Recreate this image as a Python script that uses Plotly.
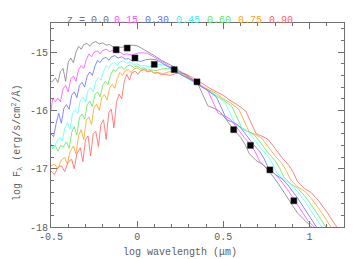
import plotly.graph_objects as go

# ---------------- data ----------------
redshifts = ["z = 0.0", "0.15", "0.30", "0.45", "0.60", "0.75", "0.90"]

sed_z000 = [(-0.51, -15.52), (-0.49, -15.50), (-0.475, -15.44), (-0.46, -15.52), (-0.445, -15.33), (-0.43, -15.28),
            (-0.415, -15.50), (-0.40, -15.17), (-0.385, -15.10), (-0.37, -15.18), (-0.355, -15.00), (-0.34, -14.90),
            (-0.325, -14.95), (-0.31, -14.87), (-0.29, -14.85), (-0.275, -14.90), (-0.26, -14.84), (-0.24, -14.82),
            (-0.22, -14.86), (-0.20, -14.84), (-0.18, -14.88), (-0.16, -14.87), (-0.14, -14.91), (-0.12, -14.90),
            (-0.09, -14.92), (-0.06, -14.89), (-0.03, -14.88), (0.00, -14.89), (0.03, -14.94), (0.06, -14.99),
            (0.10, -15.06), (0.14, -15.14), (0.19, -15.22), (0.22, -15.26), (0.25, -15.33), (0.30, -15.42),
            (0.35, -15.53), (0.37, -15.66), (0.39, -15.80), (0.41, -15.92), (0.45, -15.97), (0.48, -16.02),
            (0.52, -16.17), (0.56, -16.33), (0.60, -16.46), (0.625, -16.58), (0.65, -16.74), (0.69, -16.86),
            (0.73, -16.93), (0.77, -17.06), (0.82, -17.26), (0.87, -17.48), (0.90, -17.62), (0.93, -17.76),
            (0.96, -17.85), (0.99, -17.93), (1.03, -18.05)]

sed_z015 = [(-0.505, -16.08), (-0.49, -15.80), (-0.475, -15.85), (-0.46, -15.79), (-0.445, -15.85), (-0.43, -15.63),
            (-0.415, -15.57), (-0.40, -15.68), (-0.385, -15.46), (-0.37, -15.41), (-0.355, -15.50), (-0.34, -15.30),
            (-0.325, -15.23), (-0.31, -15.28), (-0.295, -15.13), (-0.28, -15.03), (-0.265, -15.08), (-0.25, -15.00),
            (-0.23, -14.98), (-0.215, -15.03), (-0.20, -14.97), (-0.18, -14.95), (-0.16, -14.99), (-0.14, -14.97),
            (-0.12, -15.01), (-0.10, -15.00), (-0.08, -15.04), (-0.06, -15.03), (-0.03, -15.05), (0.00, -15.02),
            (0.03, -15.01), (0.06, -15.02), (0.09, -15.07), (0.12, -15.12), (0.16, -15.19), (0.20, -15.27),
            (0.25, -15.35), (0.28, -15.39), (0.31, -15.46), (0.36, -15.55), (0.41, -15.66), (0.43, -15.79),
            (0.45, -15.93), (0.47, -16.05), (0.51, -16.10), (0.54, -16.15), (0.58, -16.30), (0.62, -16.46),
            (0.66, -16.59), (0.685, -16.71), (0.71, -16.87), (0.75, -16.99), (0.79, -17.06), (0.83, -17.19),
            (0.88, -17.39), (0.93, -17.61), (0.96, -17.75), (0.99, -17.89), (1.02, -17.98), (1.05, -18.06)]

sed_z030 = [(-0.50, -16.40), (-0.485, -16.45), (-0.47, -16.22), (-0.455, -16.05), (-0.44, -16.22), (-0.425, -15.96),
            (-0.41, -15.90), (-0.395, -15.98), (-0.38, -15.74), (-0.365, -15.68), (-0.35, -15.78), (-0.335, -15.57),
            (-0.32, -15.52), (-0.305, -15.60), (-0.29, -15.41), (-0.275, -15.34), (-0.26, -15.40), (-0.245, -15.24),
            (-0.23, -15.14), (-0.215, -15.18), (-0.20, -15.11), (-0.18, -15.09), (-0.165, -15.14), (-0.15, -15.08),
            (-0.13, -15.06), (-0.11, -15.10), (-0.09, -15.08), (-0.07, -15.12), (-0.05, -15.11), (-0.03, -15.15),
            (-0.01, -15.14), (0.02, -15.16), (0.05, -15.13), (0.08, -15.12), (0.11, -15.13), (0.14, -15.18),
            (0.17, -15.23), (0.21, -15.30), (0.25, -15.38), (0.30, -15.46), (0.33, -15.50), (0.36, -15.57),
            (0.41, -15.66), (0.46, -15.77), (0.48, -15.90), (0.50, -16.04), (0.52, -16.16), (0.56, -16.21),
            (0.59, -16.26), (0.63, -16.41), (0.67, -16.57), (0.71, -16.70), (0.735, -16.82), (0.76, -16.98),
            (0.80, -17.10), (0.84, -17.17), (0.88, -17.30), (0.93, -17.50), (0.98, -17.72), (1.01, -17.86),
            (1.04, -18.00), (1.07, -18.09)]

sed_z045 = [(-0.50, -16.58), (-0.485, -16.64), (-0.47, -16.56), (-0.45, -16.46), (-0.435, -16.52), (-0.42, -16.31),
            (-0.405, -16.21), (-0.39, -16.32), (-0.375, -16.05), (-0.36, -15.99), (-0.345, -16.05), (-0.33, -15.83),
            (-0.315, -15.77), (-0.30, -15.85), (-0.285, -15.66), (-0.27, -15.61), (-0.255, -15.68), (-0.24, -15.50),
            (-0.225, -15.43), (-0.21, -15.48), (-0.195, -15.33), (-0.18, -15.23), (-0.165, -15.27), (-0.15, -15.20),
            (-0.13, -15.18), (-0.115, -15.23), (-0.10, -15.17), (-0.08, -15.15), (-0.06, -15.19), (-0.04, -15.17),
            (-0.02, -15.21), (0.00, -15.20), (0.02, -15.24), (0.04, -15.23), (0.07, -15.25), (0.10, -15.22),
            (0.13, -15.21), (0.16, -15.22), (0.19, -15.27), (0.22, -15.32), (0.26, -15.39), (0.30, -15.47),
            (0.35, -15.55), (0.38, -15.59), (0.41, -15.66), (0.46, -15.75), (0.51, -15.86), (0.53, -15.99),
            (0.55, -16.13), (0.57, -16.25), (0.61, -16.30), (0.64, -16.35), (0.68, -16.50), (0.72, -16.66),
            (0.76, -16.79), (0.785, -16.91), (0.81, -17.07), (0.85, -17.19), (0.89, -17.26), (0.93, -17.39),
            (0.98, -17.59), (1.03, -17.81), (1.06, -17.95), (1.09, -18.09)]

sed_z060 = [(-0.50, -16.58), (-0.49, -16.66), (-0.475, -16.60), (-0.46, -16.70), (-0.445, -16.60), (-0.43, -16.63),
            (-0.41, -16.54), (-0.395, -16.65), (-0.38, -16.38), (-0.365, -16.28), (-0.35, -16.42), (-0.335, -16.12),
            (-0.32, -16.06), (-0.305, -16.15), (-0.29, -15.90), (-0.275, -15.84), (-0.26, -15.93), (-0.245, -15.73),
            (-0.23, -15.68), (-0.215, -15.77), (-0.20, -15.57), (-0.185, -15.50), (-0.17, -15.56), (-0.155, -15.40),
            (-0.14, -15.30), (-0.125, -15.33), (-0.11, -15.27), (-0.09, -15.25), (-0.075, -15.30), (-0.06, -15.24),
            (-0.04, -15.22), (-0.02, -15.26), (0.00, -15.24), (0.02, -15.28), (0.04, -15.27), (0.06, -15.31),
            (0.08, -15.30), (0.11, -15.32), (0.14, -15.29), (0.17, -15.28), (0.20, -15.29), (0.23, -15.34),
            (0.26, -15.39), (0.30, -15.46), (0.34, -15.54), (0.39, -15.62), (0.42, -15.66), (0.45, -15.73),
            (0.50, -15.82), (0.55, -15.93), (0.57, -16.06), (0.59, -16.20), (0.61, -16.32), (0.65, -16.37),
            (0.68, -16.42), (0.72, -16.57), (0.76, -16.73), (0.80, -16.86), (0.825, -16.98), (0.85, -17.14),
            (0.89, -17.26), (0.93, -17.33), (0.97, -17.46), (1.02, -17.66), (1.07, -17.88), (1.10, -18.02),
            (1.13, -18.16)]

sed_z075 = [(-0.50, -16.95), (-0.48, -16.92), (-0.46, -17.00), (-0.44, -16.85), (-0.42, -16.81), (-0.405, -16.92),
            (-0.39, -16.71), (-0.37, -16.61), (-0.355, -16.75), (-0.34, -16.43), (-0.325, -16.33), (-0.31, -16.50),
            (-0.295, -16.17), (-0.28, -16.11), (-0.265, -16.24), (-0.25, -15.95), (-0.235, -15.89), (-0.22, -16.00),
            (-0.205, -15.78), (-0.19, -15.73), (-0.175, -15.82), (-0.16, -15.62), (-0.145, -15.55), (-0.13, -15.62),
            (-0.115, -15.45), (-0.10, -15.35), (-0.085, -15.40), (-0.07, -15.32), (-0.05, -15.30), (-0.035, -15.35),
            (-0.02, -15.29), (0.00, -15.27), (0.02, -15.31), (0.04, -15.29), (0.06, -15.33), (0.08, -15.32),
            (0.10, -15.36), (0.12, -15.35), (0.15, -15.37), (0.18, -15.34), (0.21, -15.33), (0.24, -15.34),
            (0.27, -15.39), (0.30, -15.44), (0.34, -15.51), (0.38, -15.59), (0.43, -15.67), (0.46, -15.71),
            (0.49, -15.78), (0.54, -15.87), (0.59, -15.98), (0.61, -16.11), (0.63, -16.25), (0.65, -16.37),
            (0.69, -16.42), (0.72, -16.47), (0.76, -16.62), (0.80, -16.78), (0.84, -16.91), (0.865, -17.03),
            (0.89, -17.19), (0.93, -17.31), (0.97, -17.38), (1.01, -17.51), (1.06, -17.71), (1.11, -17.93),
            (1.14, -18.07)]

sed_z090 = [(-0.50, -17.04), (-0.48, -17.10), (-0.46, -16.98), (-0.44, -16.95), (-0.42, -17.05), (-0.40, -16.88),
            (-0.38, -16.84), (-0.365, -17.00), (-0.35, -16.74), (-0.33, -16.64), (-0.315, -16.88), (-0.30, -16.50),
            (-0.285, -16.44), (-0.27, -16.78), (-0.255, -16.40), (-0.24, -16.36), (-0.225, -16.62), (-0.21, -16.24),
            (-0.195, -16.16), (-0.18, -16.50), (-0.165, -16.04), (-0.15, -15.98), (-0.135, -16.30), (-0.12, -15.86),
            (-0.105, -15.72), (-0.09, -15.80), (-0.075, -15.50), (-0.06, -15.38), (-0.045, -15.48), (-0.03, -15.35),
            (-0.01, -15.33), (0.005, -15.38), (0.02, -15.32), (0.04, -15.30), (0.06, -15.34), (0.08, -15.32),
            (0.10, -15.36), (0.12, -15.35), (0.14, -15.39), (0.16, -15.38), (0.19, -15.40), (0.22, -15.37),
            (0.25, -15.36), (0.28, -15.37), (0.31, -15.42), (0.34, -15.47), (0.38, -15.54), (0.42, -15.62),
            (0.47, -15.70), (0.50, -15.74), (0.53, -15.81), (0.58, -15.90), (0.63, -16.01), (0.65, -16.14),
            (0.67, -16.28), (0.69, -16.40), (0.73, -16.45), (0.76, -16.50), (0.80, -16.65), (0.84, -16.81),
            (0.88, -16.94), (0.905, -17.06), (0.93, -17.22), (0.97, -17.34), (1.01, -17.41), (1.05, -17.54),
            (1.10, -17.74), (1.15, -17.96), (1.18, -18.10)]

phot_x = [-0.122, -0.058, -0.013, 0.099, 0.215, 0.347, 0.560, 0.657, 0.770, 0.909]
phot_y = [-14.96, -14.93, -15.10, -15.21, -15.30, -15.51, -16.33, -16.60, -17.02, -17.55]

x_tickvals = [-0.5, 0, 0.5, 1]
x_ticktext = ["-0.5", "0", "0.5", "1"]
y_tickvals = [-18, -17, -16, -15]
y_ticktext = ["-18", "-17", "-16", "-15"]

# ---------------- styling ----------------
series = [sed_z000, sed_z015, sed_z030, sed_z045, sed_z060, sed_z075, sed_z090]
colors = ["#808080", "#ff4cff", "#6a6aff", "#55ffff", "#5ee65e", "#ffa21e", "#ff6262"]
title_colors = ["#6e6e6e", "#ff4cff", "#6a6aff", "#40f0f0", "#5ee65e", "#ffa21e", "#ff6262"]
title_px = [87.5, 126, 157, 188, 219, 250, 280.5]

FONT = "Liberation Mono, DejaVu Sans Mono, monospace"
AX = "#707070"

# the page body adds an 8px offset; target plot box on the page: x 51..344, y 23..227
OFF = 8
L, R, T, B = 51 - OFF, 11, 23 - OFF, 32
W, H = 355 - OFF, 259 - OFF
pw, ph = W - L - R, H - T - B   # 293 x 204

def px_to_paper(px, py):
    return (px - 51) / pw, (227 - py) / ph

fig = go.Figure()
for pts, col in reversed(list(zip(series, colors))):
    xs = [p[0] for p in pts]
    ys = [p[1] for p in pts]
    fig.add_trace(go.Scatter(x=xs, y=ys, mode="lines",
                             line=dict(color=col, width=0.8), hoverinfo="skip"))

fig.add_trace(go.Scatter(x=phot_x, y=phot_y, mode="markers",
                         marker=dict(symbol="square", size=6, color="#000000",
                                     line=dict(color="#333333", width=0.5))))

axis_common = dict(showline=True, linecolor=AX, linewidth=1, mirror="ticks",
                   ticks="inside", ticklen=6, tickcolor=AX, tickwidth=1,
                   showgrid=False, zeroline=False, automargin=False,
                   tickfont=dict(family=FONT, size=10, color="#606060"))

fig.update_xaxes(range=[-0.5, 1.2], tickmode="array", tickvals=x_tickvals, ticktext=x_ticktext,
                 minor=dict(tickmode="linear", tick0=0, dtick=0.1, ticks="inside", ticklen=3,
                            tickcolor=AX, showgrid=False),
                 **axis_common)
fig.update_yaxes(range=[-18, -14.5], tickmode="array", tickvals=y_tickvals, ticktext=y_ticktext,
                 minor=dict(tickmode="linear", tick0=0, dtick=0.2, ticks="inside", ticklen=3,
                            tickcolor=AX, showgrid=False),
                 **axis_common)

annotations = []
for txt, col, px in zip(redshifts, title_colors, title_px):
    ax_, ay_ = px_to_paper(px, 20.5)
    annotations.append(dict(text=txt, x=ax_, y=ay_, xref="paper", yref="paper",
                            showarrow=False, xanchor="center", yanchor="middle",
                            font=dict(family=FONT, size=10, color=col)))
ax_, ay_ = px_to_paper(180, 252)
annotations.append(dict(text="log wavelength (μm)", x=ax_, y=ay_,
                        xref="paper", yref="paper", showarrow=False, xanchor="center", yanchor="middle",
                        font=dict(family=FONT, size=10, color="#606060")))
ax_, ay_ = px_to_paper(17, 143)
annotations.append(dict(text="log F<sub>λ</sub> (erg/s/cm<sup>2</sup>/Å)", x=ax_, y=ay_,
                        xref="paper", yref="paper", showarrow=False,
                        xanchor="center", yanchor="middle", textangle=-90,
                        font=dict(family=FONT, size=10, color="#606060")))

fig.update_layout(width=W, height=H, margin=dict(l=L, r=R, t=T, b=B, pad=0, autoexpand=False),
                  paper_bgcolor="white", plot_bgcolor="white", showlegend=False,
                  annotations=annotations)

fig.write_html("out.html")
